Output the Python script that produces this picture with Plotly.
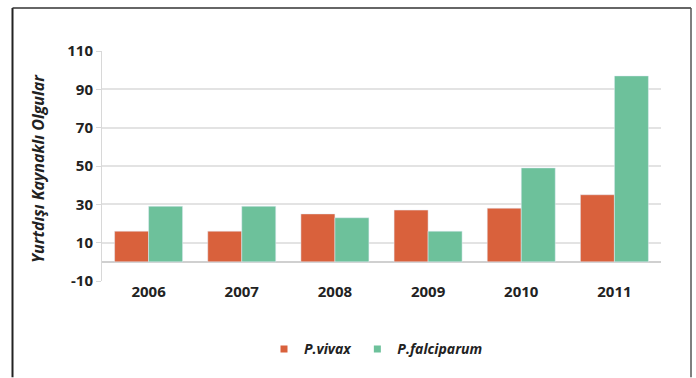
import plotly.graph_objects as go

years = ["2006", "2007", "2008", "2009", "2010", "2011"]
vivax = [16, 16, 25, 27, 28, 35]
falciparum = [29, 29, 23, 16, 49, 97]
y_ticks = [-10, 10, 30, 50, 70, 90, 110]
series_names = ["P.vivax", "P.falciparum"]
colors = ["#D9613C", "#6DC19B"]

W, H = 696, 378
L, R, T, B = 102, 35, 51, 95
pw, ph = W - L - R, H - T - B

def px_x(p):
    return (p - L) / pw

def px_y(p):
    return (H - B - p) / ph

font_fam = "Open Sans"
txt = "#222222"
fig = go.Figure()
for vals, name, col in zip([vivax, falciparum], series_names, colors):
    fig.add_trace(go.Bar(x=years, y=vals, name=name, marker_color=col, showlegend=False))
for name, col in zip(series_names, colors):
    fig.add_trace(go.Scatter(x=[None], y=[None], mode="markers", name="<i>" + name + "</i>",
                             marker=dict(symbol="square", size=7, color=col), showlegend=True))

fig.update_layout(
    width=W, height=H,
    margin=dict(l=L, r=R, t=T, b=B, pad=0),
    paper_bgcolor="white", plot_bgcolor="white",
    barmode="group", bargap=0.27, bargroupgap=0,
    font=dict(family=font_fam, color=txt),
    showlegend=True,
    legend=dict(orientation="h", x=px_x(376), y=px_y(352), xanchor="center", yanchor="middle",
                font=dict(size=14, family=font_fam, color=txt, weight="bold"),
                itemwidth=30, traceorder="normal", tracegroupgap=0),
    xaxis=dict(showgrid=False, showline=False, ticks="",
               tickfont=dict(size=15, family=font_fam, color=txt, weight="bold")),
    yaxis=dict(range=[-10, 110], tickvals=y_ticks, ticktext=[str(v) for v in y_ticks],
               showgrid=True, gridcolor="#E3E3E3", gridwidth=1.5,
               zeroline=True, zerolinecolor="#D0D0D0", zerolinewidth=1.5,
               showline=True, linecolor="#D8D8D8", linewidth=1,
               ticks="outside", ticklen=5, tickcolor="#D8D8D8",
               tickfont=dict(size=15, family=font_fam, color=txt, weight="bold")),
    annotations=[dict(text="<i>Yurtdışı Kaynaklı Olgular</i>", xref="paper", yref="paper",
                      x=px_x(38), y=px_y(170), textangle=-90, showarrow=False,
                      xanchor="center", yanchor="middle",
                      font=dict(size=16, family=font_fam, color=txt, weight="bold"))],
    shapes=[
        dict(type="line", xref="paper", yref="paper", x0=px_x(12.5), x1=px_x(12.5), y0=px_y(7.5), y1=px_y(380),
             line=dict(color="#222222", width=2)),
        dict(type="line", xref="paper", yref="paper", x0=px_x(12.5), x1=px_x(691), y0=px_y(7.5), y1=px_y(7.5),
             line=dict(color="#333333", width=1.5)),
        dict(type="line", xref="paper", yref="paper", x0=px_x(691), x1=px_x(691), y0=px_y(7.5), y1=px_y(380),
             line=dict(color="#555555", width=1.5)),
    ],
)

fig.write_html("out.html")
